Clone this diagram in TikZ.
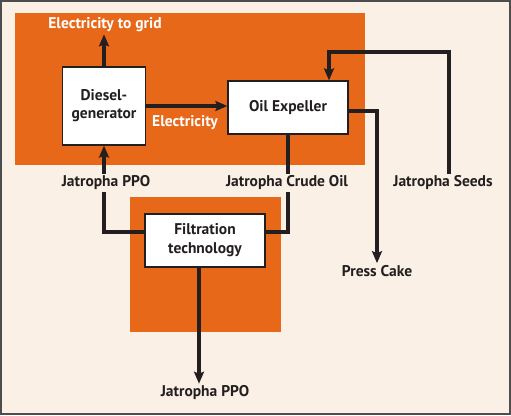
\documentclass[tikz,border=0pt]{standalone}
\usepackage{fontspec}
\setmainfont{PT Sans}
\usetikzlibrary{arrows.meta,positioning,calc}

\definecolor{jorange}{HTML}{E8681A}
\definecolor{jbg}{HTML}{FAF0E5}
\definecolor{jframe}{HTML}{4D4D4D}
\definecolor{jink}{HTML}{231F20}

\begin{document}
\begin{tikzpicture}[
    x=1pt, y=-1pt,
    procbox/.style={
        draw=jink,
        fill=white,
        line width=1.2pt,
        inner sep=0pt,
        text=jink,
        font=\fontsize{15.5}{18}\selectfont\bfseries,
        align=center
    },
    flowlabel/.style={
        font=\fontsize{15.5}{18}\selectfont\bfseries,
        text=jink,
        fill=jbg,
        inner sep=2pt
    },
    powerlabel/.style={
        font=\fontsize{15.5}{18}\selectfont\bfseries,
        text=white,
        inner sep=2pt
    },
    arrow/.style={
        -{Stealth[length=12pt,width=10pt,inset=2pt]},
        line width=3.2pt,
        draw=jink
    },
    flow/.style={
        line width=3.2pt,
        draw=jink
    }
]
    \useasboundingbox (0,0) rectangle (511,415);
    \fill[jbg] (0,0) rectangle (511,415);
    \draw[jframe, line width=1.6pt] (1,1) rectangle (510,414);

    % orange areas
    \fill[jorange] (15,13) rectangle (365,165);
    \fill[jorange] (130,197) rectangle (281,332);

    \node[procbox, minimum width=83pt, minimum height=78pt] (diesel) at (104,106) {Diesel-\\generator};
    \node[procbox, minimum width=120pt, minimum height=53pt] (expeller) at (288,107.5) {Oil Expeller};
    \node[procbox, minimum width=120pt, minimum height=53pt, font=\fontsize{15.5}{19}\selectfont\bfseries] (filter) at (205,240.5) {Filtration\\technology};

    \node[powerlabel] (grid) at (105,25) {Electricity to grid};
    \node[powerlabel] (elec) at (185,123) {Electricity};
    \node[flowlabel] (cake) at (377,271) {Press Cake};
    \node[flowlabel] (seeds) at (443,183) {Jatropha Seeds};
    \node[flowlabel] (ppoOut) at (205,393) {Jatropha PPO};
    \coordinate (loop) at (329,52);

    \draw[arrow] (diesel.north) -- (diesel.north |- grid.south);
    \draw[arrow] (diesel.east) -- (diesel.east -| expeller.west);
    \draw[arrow] ([yshift=8.5pt]filter.west) -| (diesel.south);
    \draw[flow] (expeller.south) |- ([yshift=8.5pt]filter.east);
    \draw[arrow] ([yshift=-3.5pt]expeller.east) -| (cake.north);
    \draw[arrow] ([xshift=6pt]seeds.north) |- (loop) -- (loop |- expeller.north);
    \draw[arrow] ([xshift=-6pt]filter.south) -- ([xshift=-6pt]filter.south |- ppoOut.north);

    % labels sitting on the lines
    \node[flowlabel] (ppoIn) at (106,183) {Jatropha PPO};
    \node[flowlabel] (crude) at (287,183) {Jatropha Crude Oil};
\end{tikzpicture}
\end{document}
